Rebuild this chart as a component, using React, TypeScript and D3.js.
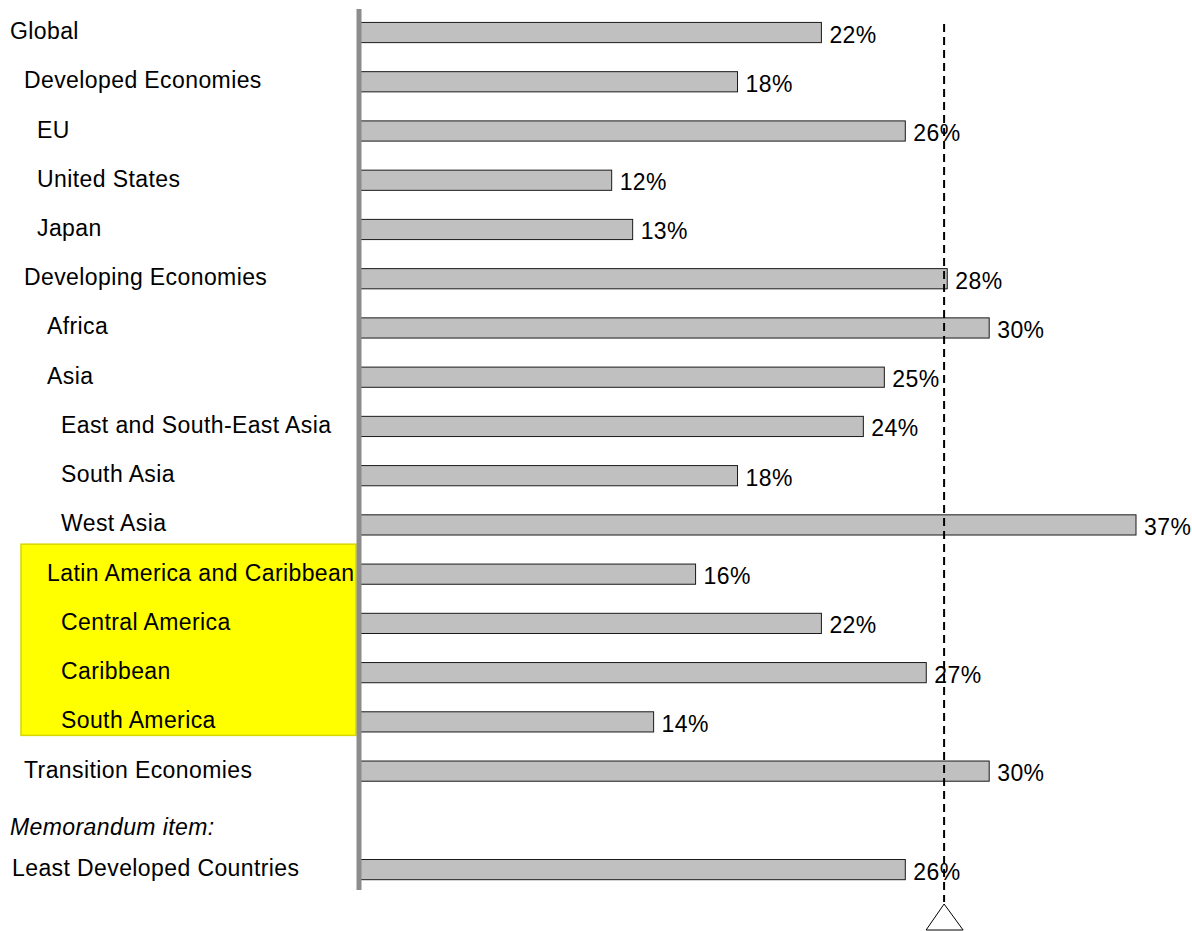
import React from 'react'
import * as d3 from 'd3'

// rows, top to bottom
const categories = [
  'Global',
  'Developed Economies',
  'EU',
  'United States',
  'Japan',
  'Developing Economies',
  'Africa',
  'Asia',
  'East and South-East Asia',
  'South Asia',
  'West Asia',
  'Latin America and Caribbean',
  'Central America',
  'Caribbean',
  'South America',
  'Transition Economies',
  'Memorandum item:',
  'Least Developed Countries',
]
const values: (number | null)[] = [22, 18, 26, 12, 13, 28, 30, 25, 24, 18, 37, 16, 22, 27, 14, 30, null, 26]
const levels = [0, 1, 2, 2, 2, 1, 3, 3, 4, 4, 4, 3, 4, 4, 4, 1, 0, 0]
const highlighted = ['Latin America and Caribbean', 'Central America', 'Caribbean', 'South America']
const referenceValue = 27.85

const W = 1192
const H = 931
const indent = [10, 24, 37, 47, 61]
const font = '"Liberation Sans", Arial, sans-serif'

export default function App() {
  const x = d3.scaleLinear().domain([0, 37]).range([360, 1136])
  const y = d3.scaleBand<string>()
    .domain(categories)
    .range([7.9, 7.9 + categories.length * 49.24])
    .paddingInner(0.59)
    .paddingOuter(0.295)
  const mid = (c: string) => (y(c) as number) + y.bandwidth() / 2

  const hiTop = mid(highlighted[0]) - 30
  const hiBottom = mid(highlighted[highlighted.length - 1]) + 13.5
  const rx = x(referenceValue)

  return (
    <svg width={W} height={H} style={{position: 'absolute', left: 0, top: 0, background: '#fff'}}>
      {/* highlight box */}
      <rect x={21} y={hiTop} width={335} height={hiBottom - hiTop}
        fill="#ffff00" stroke="#d6d600" strokeWidth={1.5} />

      {/* bars */}
      {categories.map((c, i) => values[i] == null ? null : (
        <rect key={c} x={x(0)} y={y(c)} width={x(values[i] as number) - x(0)} height={y.bandwidth()}
          fill="#c0c0c0" stroke="#1a1a1a" strokeWidth={1} />
      ))}

      {/* reference line */}
      <line x1={rx} x2={rx} y1={24} y2={902} stroke="#000" strokeWidth={2} strokeDasharray="8,5" />
      <path d={`M${rx},904 L${rx - 18},930 L${rx + 19},930 Z`} fill="#fff" stroke="#000" strokeWidth={1} />

      {/* axis */}
      <line x1={359} x2={359} y1={9} y2={890} stroke="#8c8c8c" strokeWidth={5} />

      {/* category labels */}
      {categories.map((c, i) => {
        // memorandum line sits a little lower than its slot
        const yy = mid(c) + (i === 16 ? 15 : 6.5)
        return (
          <text key={c} x={indent[levels[i]] + (i === 17 ? 2 : 0)} y={yy}
            fontFamily={font} fontSize={23} letterSpacing={0.4}
            fontStyle={i === 16 ? 'italic' : 'normal'} fill="#000">{c}</text>
        )
      })}

      {/* value labels */}
      {categories.map((c, i) => values[i] == null ? null : (
        <text key={c} x={x(values[i] as number) + 8} y={mid(c) + 10}
          fontFamily={font} fontSize={23} letterSpacing={0.4} fill="#000">{values[i]}%</text>
      ))}
    </svg>
  )
}
